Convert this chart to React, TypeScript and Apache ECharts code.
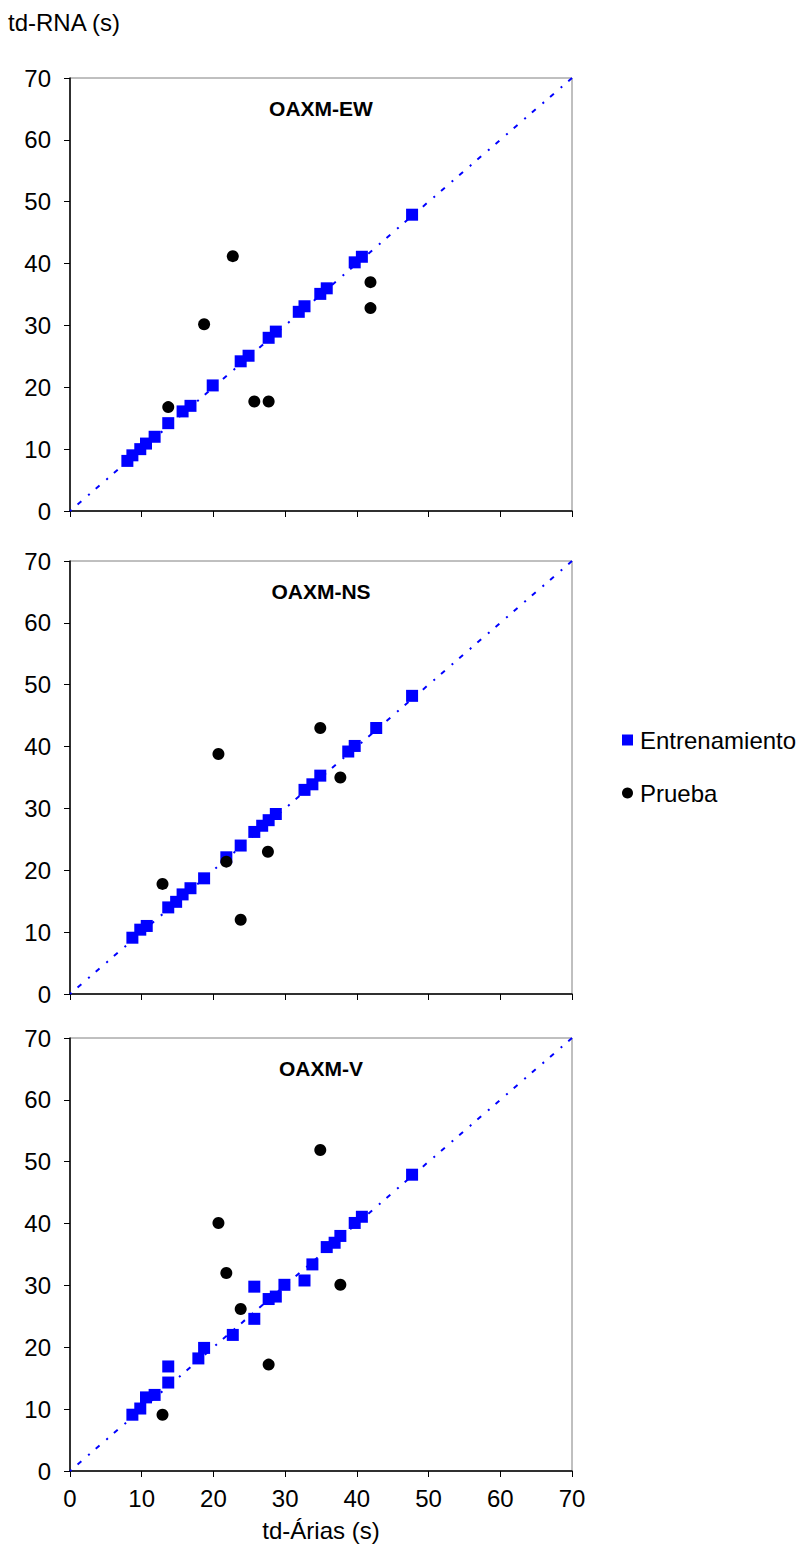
import React, { useEffect, useRef } from "react";
import * as echarts from "echarts";

// ---- Data ----
const panelTitles = ["OAXM-EW", "OAXM-NS", "OAXM-V"];
const tickValues = [0, 10, 20, 30, 40, 50, 60, 70];

// Panel 1: OAXM-EW
const ewTrainX = [8, 8.7, 9.8, 10.6, 11.8, 13.7, 15.7, 16.8, 19.9, 23.8, 24.9, 27.7, 28.7, 31.9, 32.7, 34.9, 35.8, 39.7, 40.7, 47.7];
const ewTrainY = [8.1, 9, 10, 10.9, 12, 14.2, 16.1, 17, 20.3, 24.2, 25.1, 28, 29, 32.2, 33.1, 35.1, 36, 40.2, 41.1, 47.9];
const ewTestX = [22.7, 18.7, 41.9, 41.9, 13.7, 25.7, 27.7];
const ewTestY = [41.2, 30.2, 37, 32.8, 16.8, 17.7, 17.7];

// Panel 2: OAXM-NS
const nsTrainX = [8.7, 9.8, 10.7, 13.7, 14.8, 15.7, 16.8, 18.7, 21.8, 23.8, 25.7, 26.8, 27.7, 28.7, 32.7, 33.8, 34.9, 38.8, 39.7, 42.7, 47.7];
const nsTrainY = [9.1, 10.4, 11, 14, 14.9, 16.1, 17.1, 18.7, 22.1, 24, 26.2, 27.2, 28.1, 29.1, 33, 33.9, 35.3, 39.2, 40.1, 43, 48.2];
const nsTestX = [34.9, 20.7, 37.7, 27.6, 21.8, 12.9, 23.8];
const nsTestY = [43, 38.8, 35, 23, 21.4, 17.8, 12];

// Panel 3: OAXM-V
const vTrainX = [8.7, 9.8, 10.6, 11.8, 13.7, 13.7, 17.9, 18.7, 22.7, 25.7, 25.7, 27.7, 28.7, 29.9, 32.7, 33.8, 35.8, 36.9, 37.7, 39.7, 40.7, 47.7];
const vTrainY = [9.1, 10.1, 11.9, 12.3, 14.3, 16.9, 18.2, 19.9, 22, 24.6, 29.8, 27.8, 28.2, 30.1, 30.8, 33.4, 36.2, 36.9, 38, 40.1, 41.1, 47.9];
const vTestX = [34.9, 20.7, 21.8, 23.8, 37.7, 27.7, 12.9];
const vTestY = [51.9, 40.1, 32, 26.2, 30.1, 17.2, 9.1];

const diagonalX = [0, 70];
const diagonalY = [0, 70];

const trainName = "Entrenamiento";
const testName = "Prueba";
const yAxisTitle = "td-RNA (s)";
const xAxisTitle = "td-Árias (s)";

const zip = (xs: number[], ys: number[]) => xs.map((x, i) => [x, ys[i]]);

const FONT = "'Liberation Sans', Arial, sans-serif";

export default function App() {
  const ref = useRef<HTMLDivElement>(null);

  useEffect(() => {
    if (!ref.current) return;
    const chart = echarts.init(ref.current, undefined, { renderer: "svg" });

    const panels = [
      { trainX: ewTrainX, trainY: ewTrainY, testX: ewTestX, testY: ewTestY },
      { trainX: nsTrainX, trainY: nsTrainY, testX: nsTestX, testY: nsTestY },
      { trainX: vTrainX, trainY: vTrainY, testX: vTestX, testY: vTestY },
    ];
    const tops = [78, 561, 1038];
    const gridLeft = 70;
    const gridWidth = 502;
    const gridHeight = 433;

    const grids = tops.map((t) => ({
      left: gridLeft,
      top: t,
      width: gridWidth,
      height: gridHeight,
      show: true,
      borderColor: "#808080",
      borderWidth: 1,
      backgroundColor: "transparent",
    }));

    const xAxes = tops.map((_, i) => ({
      type: "value",
      gridIndex: i,
      min: tickValues[0],
      max: tickValues[tickValues.length - 1],
      interval: 10,
      axisLine: { show: true, onZero: false, lineStyle: { color: "#000", width: 1.5 } },
      axisTick: { show: true, inside: false, length: 6, lineStyle: { color: "#000", width: 1 } },
      axisLabel: {
        show: i === 2,
        color: "#000",
        fontSize: 24,
        fontFamily: FONT,
        margin: 15,
      },
      splitLine: { show: false },
    }));

    const yAxes = tops.map((_, i) => ({
      type: "value",
      gridIndex: i,
      min: tickValues[0],
      max: tickValues[tickValues.length - 1],
      interval: 10,
      axisLine: { show: true, onZero: false, lineStyle: { color: "#000", width: 1.5 } },
      axisTick: { show: true, inside: false, length: 6, lineStyle: { color: "#000", width: 1 } },
      axisLabel: {
        show: true,
        color: "#000",
        fontSize: 24,
        fontFamily: FONT,
        margin: 19,
      },
      splitLine: { show: false },
    }));

    const series: any[] = [];
    panels.forEach((p, i) => {
      series.push({
        type: "line",
        name: "diag",
        xAxisIndex: i,
        yAxisIndex: i,
        data: zip(diagonalX, diagonalY),
        showSymbol: false,
        symbol: "none",
        lineStyle: { color: "#0000ff", width: 2, type: [2, 8, 5, 9] },
        z: 1,
        silent: true,
      });
      series.push({
        type: "scatter",
        name: trainName,
        xAxisIndex: i,
        yAxisIndex: i,
        data: zip(p.trainX, p.trainY),
        symbol: "rect",
        symbolSize: 12,
        itemStyle: { color: "#0000ff", opacity: 1 },
        z: 3,
      });
      series.push({
        type: "scatter",
        name: testName,
        xAxisIndex: i,
        yAxisIndex: i,
        data: zip(p.testX, p.testY),
        symbol: "circle",
        symbolSize: 12,
        itemStyle: { color: "#000000", opacity: 1 },
        z: 4,
      });
    });

    const graphics: any[] = panelTitles.map((t, i) => ({
      type: "text",
      x: gridLeft + gridWidth / 2,
      y: tops[i] + 30,
      style: {
        text: t,
        fontSize: 21,
        fontWeight: "bold",
        fontFamily: FONT,
        fill: "#000",
        align: "center",
        verticalAlign: "middle",
      },
    }));
    graphics.push({
      type: "text",
      x: 8,
      y: 22,
      style: {
        text: yAxisTitle,
        fontSize: 24,
        fontFamily: FONT,
        fill: "#000",
        align: "left",
        verticalAlign: "middle",
      },
    });
    graphics.push({
      type: "text",
      x: gridLeft + gridWidth / 2,
      y: 1530,
      style: {
        text: xAxisTitle,
        fontSize: 24,
        fontFamily: FONT,
        fill: "#000",
        align: "center",
        verticalAlign: "middle",
      },
    });

    chart.setOption({
      animation: false,
      backgroundColor: "#ffffff",
      grid: grids,
      xAxis: xAxes,
      yAxis: yAxes,
      legend: {
        data: [
          { name: trainName, icon: "rect" },
          { name: testName, icon: "circle" },
        ],
        orient: "vertical",
        left: 617,
        top: 723,
        itemWidth: 11,
        itemHeight: 11,
        itemGap: 29,
        textStyle: { fontSize: 24, fontFamily: FONT, color: "#000", padding: [0, 0, 0, 2] },
        selectedMode: false,
      },
      graphic: graphics,
      series,
    });

    return () => chart.dispose();
  }, []);

  return (
    <div
      ref={ref}
      style={{ position: "absolute", left: 0, top: 0, width: 812, height: 1556, background: "#fff" }}
    />
  );
}
